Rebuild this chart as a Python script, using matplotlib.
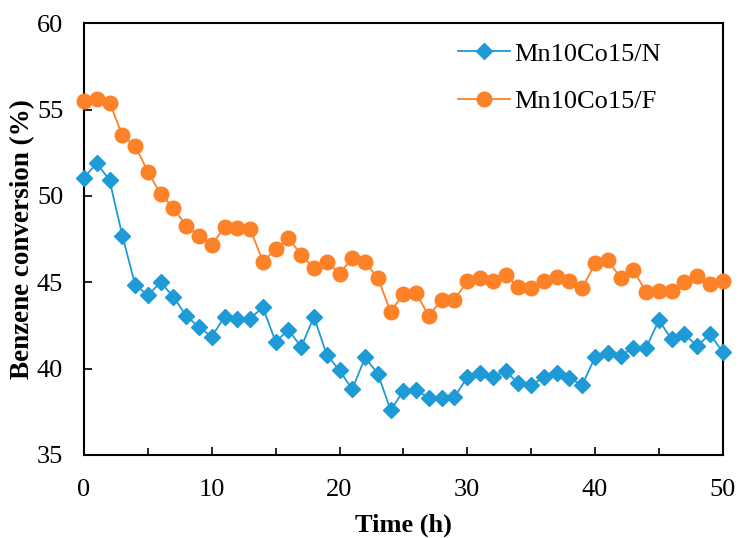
import matplotlib.pyplot as plt
import numpy as np

plt.rcParams['font.family'] = ['Liberation Serif', 'DejaVu Serif']

time_h = np.arange(0, 51)

mn_n = [51.05, 51.9, 50.9, 47.7, 44.85, 44.25, 45.0, 44.15, 43.05, 42.4,
        41.85, 43.0, 42.9, 42.9, 43.55, 41.55, 42.25, 41.25, 43.0, 40.8,
        39.9, 38.8, 40.65, 39.7, 37.6, 38.7, 38.75, 38.3, 38.3, 38.35,
        39.5, 39.75, 39.5, 39.85, 39.15, 39.05, 39.5, 39.75, 39.45, 39.05,
        40.65, 40.9, 40.75, 41.2, 41.2, 42.8, 41.7, 42.0, 41.3, 42.0, 40.95]

mn_f = [55.5, 55.6, 55.4, 53.5, 52.9, 51.4, 50.1, 49.3, 48.25, 47.7,
        47.15, 48.2, 48.15, 48.1, 46.2, 46.9, 47.55, 46.6, 45.8, 46.2,
        45.5, 46.4, 46.15, 45.25, 43.3, 44.3, 44.35, 43.05, 44.0, 44.0,
        45.05, 45.25, 45.1, 45.4, 44.75, 44.65, 45.1, 45.3, 45.05, 44.65,
        46.1, 46.3, 45.25, 45.7, 44.45, 44.5, 44.5, 45.0, 45.35, 44.9, 45.1]

fig = plt.figure(figsize=(7.39, 5.38), dpi=100)
ax = fig.add_axes([0.1137, 0.1543, 0.8643, 0.8027])

ax.plot(time_h, mn_n, color='#1E9BD7', marker='D', markersize=8, lw=1.3,
        label='Mn10Co15/N', clip_on=False, zorder=3)
ax.plot(time_h, mn_f, color='#FD8126', marker='o', markersize=10.5, lw=1.3,
        label='Mn10Co15/F', clip_on=False, zorder=3)

ax.set_xlim(0, 50)
ax.set_ylim(35, 60)
ax.set_xticks(range(0, 51, 10))
ax.set_xticks(range(5, 50, 10), minor=True)
ax.set_yticks(range(35, 61, 5))
ax.tick_params(axis='both', which='both', direction='in', labelsize=19,
               width=1.2, top=False, right=False)
ax.tick_params(axis='x', which='major', length=6, pad=17)
ax.tick_params(axis='x', which='minor', length=5)
ax.tick_params(axis='y', which='major', length=6, pad=15)
for s in ax.spines.values():
    s.set_linewidth(1.5)

ax.set_xlabel('Time (h)', fontsize=19, fontweight='bold', labelpad=9)
ax.set_ylabel('Benzene conversion (%)', fontsize=19.5, fontweight='bold', labelpad=1)

ax.legend(loc='upper left', bbox_to_anchor=(0.585, 0.956), frameon=False,
          fontsize=19, handlelength=2.0, handletextpad=0.15, labelspacing=0.9,
          borderpad=0, borderaxespad=0)

fig.savefig('out.png', dpi=100)
